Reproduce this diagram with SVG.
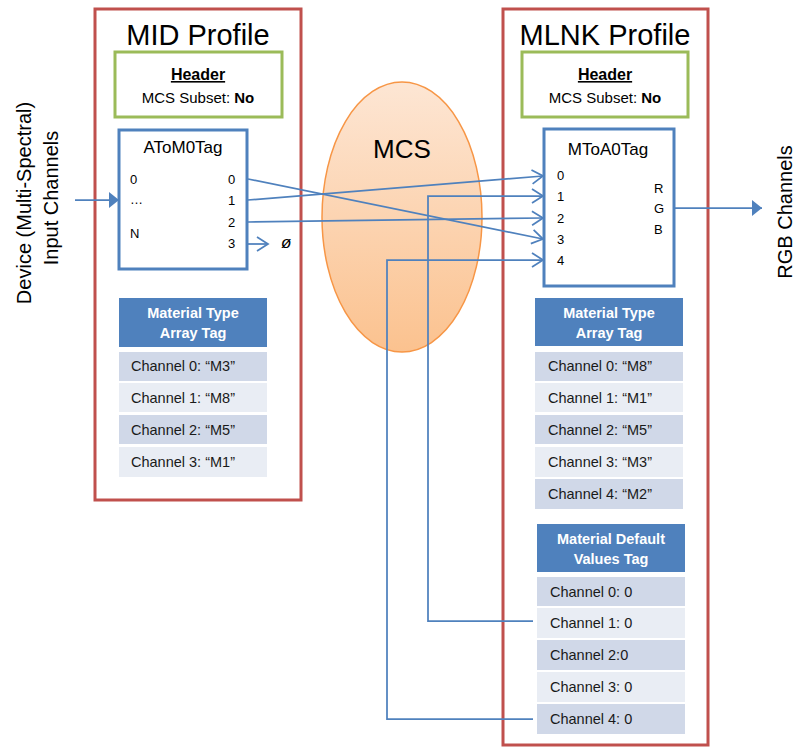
<svg xmlns="http://www.w3.org/2000/svg" width="797" height="747" viewBox="0 0 797 747">
<defs>
<linearGradient id="mcsGrad" x1="0" y1="0" x2="0" y2="1">
<stop offset="0" stop-color="#fde6d4"/>
<stop offset="1" stop-color="#fbc28f"/>
</linearGradient>
<marker id="open" markerUnits="userSpaceOnUse" markerWidth="14" markerHeight="16" refX="12" refY="8" orient="auto" overflow="visible">
<path d="M1,1 L12,8 L1,15" fill="none" stroke="#4f81bd" stroke-width="1.75"/>
</marker>
<marker id="solid" markerUnits="userSpaceOnUse" markerWidth="12" markerHeight="18" refX="10" refY="8" orient="auto" overflow="visible">
<path d="M0,0 L10,8 L0,16 Z" fill="#4f81bd"/>
</marker>
</defs>
<style>
text{font-family:"Liberation Sans",Arial,sans-serif;fill:#000}
.profile{fill:#fff;stroke:#c0504d;stroke-width:3}
.hdr{fill:#fff;stroke:#9bbb59;stroke-width:3}
.tag{fill:#fff;stroke:#4f81bd;stroke-width:3}
.title{font-size:29px;text-anchor:middle}
.hh{font-size:16px;font-weight:bold;text-anchor:middle;text-decoration:underline}
.hs{font-size:15px;text-anchor:middle}
.tt{font-size:17px;text-anchor:middle}
.port{font-size:13px}
.th{fill:#4f81bd}
.thx{font-size:14.5px;font-weight:bold;fill:#fff;text-anchor:middle}
.rd{fill:#d0d8e8}
.rl{fill:#e9edf4}
.rt{font-size:14.5px;fill:#1a1a1a}
.side{font-size:20px;text-anchor:middle}
.con{fill:none;stroke:#4f81bd;stroke-width:1.75}
</style>

<g id="mid-profile">
<rect class="profile" x="95" y="9" width="206" height="491"/>
<text class="title" x="198" y="45">MID Profile</text>
</g>
<g id="mid-header">
<rect class="hdr" x="115" y="52" width="167" height="65"/>
<text class="hh" x="198" y="80">Header</text>
<text class="hs" x="198" y="103">MCS Subset: <tspan font-weight="bold">No</tspan></text>
</g>
<g id="atom0tag">
<rect class="tag" x="119" y="130" width="128" height="139"/>
<text class="tt" x="183" y="153">AToM0Tag</text>
<text class="port" x="130" y="184">0</text>
<text class="port" x="130" y="204">…</text>
<text class="port" x="130" y="238">N</text>
<text class="port" x="228" y="184">0</text>
<text class="port" x="228" y="205">1</text>
<text class="port" x="228" y="227">2</text>
<text class="port" x="228" y="248">3</text>
<text x="281" y="248" font-size="17px" font-style="italic">ø</text>
</g>
<g id="mid-material-type">
<rect class="th" x="119" y="298" width="148" height="49"/>
<text class="thx" x="193" y="318">Material Type</text>
<text class="thx" x="193" y="338">Array Tag</text>
<rect class="rd" x="119" y="352" width="148" height="29"/>
<text class="rt" x="131" y="371">Channel 0: “M3”</text>
<rect class="rl" x="119" y="383" width="148" height="29"/>
<text class="rt" x="131" y="403">Channel 1: “M8”</text>
<rect class="rd" x="119" y="415" width="148" height="29"/>
<text class="rt" x="131" y="435">Channel 2: “M5”</text>
<rect class="rl" x="119" y="447" width="148" height="30"/>
<text class="rt" x="131" y="467">Channel 3: “M1”</text>
</g>

<g id="mlnk-profile">
<rect class="profile" x="503" y="9" width="205" height="736"/>
<text class="title" x="605" y="45">MLNK Profile</text>
</g>
<g id="mlnk-header">
<rect class="hdr" x="522" y="52" width="166" height="65"/>
<text class="hh" x="605" y="80">Header</text>
<text class="hs" x="605" y="103">MCS Subset: <tspan font-weight="bold">No</tspan></text>
</g>
<g id="mtoa0tag">
<rect class="tag" x="544" y="129" width="130" height="157"/>
<text class="tt" x="608" y="155">MToA0Tag</text>
<text class="port" x="557" y="180">0</text>
<text class="port" x="557" y="201">1</text>
<text class="port" x="557" y="223">2</text>
<text class="port" x="557" y="244">3</text>
<text class="port" x="557" y="265">4</text>
<text class="port" x="654" y="193">R</text>
<text class="port" x="654" y="213">G</text>
<text class="port" x="654" y="234">B</text>
</g>
<g id="mlnk-material-type">
<rect class="th" x="535" y="298" width="148" height="48"/>
<text class="thx" x="609" y="318">Material Type</text>
<text class="thx" x="609" y="338">Array Tag</text>
<rect class="rd" x="535" y="352" width="148" height="29"/>
<text class="rt" x="548" y="371">Channel 0: “M8”</text>
<rect class="rl" x="535" y="383" width="148" height="29"/>
<text class="rt" x="548" y="403">Channel 1: “M1”</text>
<rect class="rd" x="535" y="415" width="148" height="29"/>
<text class="rt" x="548" y="435">Channel 2: “M5”</text>
<rect class="rl" x="535" y="447" width="148" height="30"/>
<text class="rt" x="548" y="467">Channel 3: “M3”</text>
<rect class="rd" x="535" y="479" width="148" height="30"/>
<text class="rt" x="548" y="499">Channel 4: “M2”</text>
</g>
<g id="mlnk-material-default">
<rect class="th" x="537" y="524" width="148" height="48"/>
<text class="thx" x="611" y="544">Material Default</text>
<text class="thx" x="611" y="564">Values Tag</text>
<rect class="rd" x="537" y="577" width="148" height="29"/>
<text class="rt" x="550" y="597">Channel 0: 0</text>
<rect class="rl" x="537" y="608" width="148" height="30"/>
<text class="rt" x="550" y="628">Channel 1: 0</text>
<rect class="rd" x="537" y="640" width="148" height="30"/>
<text class="rt" x="550" y="660">Channel 2:0</text>
<rect class="rl" x="537" y="672" width="148" height="30"/>
<text class="rt" x="550" y="692">Channel 3: 0</text>
<rect class="rd" x="537" y="704" width="148" height="30"/>
<text class="rt" x="550" y="724">Channel 4: 0</text>
</g>

<g id="mcs">
<ellipse cx="402" cy="217" rx="80" ry="135" fill="url(#mcsGrad)" stroke="#f79646" stroke-width="1.5"/>
<text x="402" y="158" font-size="26px" text-anchor="middle">MCS</text>
</g>

<g id="device-label">
<text class="side" transform="translate(31,203) rotate(-90)">Device (Multi-Spectral)</text>
<text class="side" transform="translate(58,198) rotate(-90)">Input Channels</text>
</g>
<g id="rgb-label">
<text class="side" transform="translate(792,212) rotate(-90)">RGB Channels</text>
</g>

<g id="connectors">
<line class="con" x1="75" y1="200" x2="119" y2="200" marker-end="url(#solid)"/>
<line class="con" x1="674" y1="208" x2="762" y2="208" marker-end="url(#solid)"/>
<line class="con" x1="248" y1="179" x2="543" y2="239" marker-end="url(#open)"/>
<line class="con" x1="248" y1="200" x2="543" y2="176" marker-end="url(#open)"/>
<line class="con" x1="248" y1="222" x2="543" y2="218" marker-end="url(#open)"/>
<line class="con" x1="248" y1="244" x2="268" y2="244" marker-end="url(#open)"/>
<polyline class="con" points="533,621 428,621 428,196 543,196" marker-end="url(#open)"/>
<polyline class="con" points="533,719 387,719 387,260 543,260" marker-end="url(#open)"/>
</g>
</svg>
